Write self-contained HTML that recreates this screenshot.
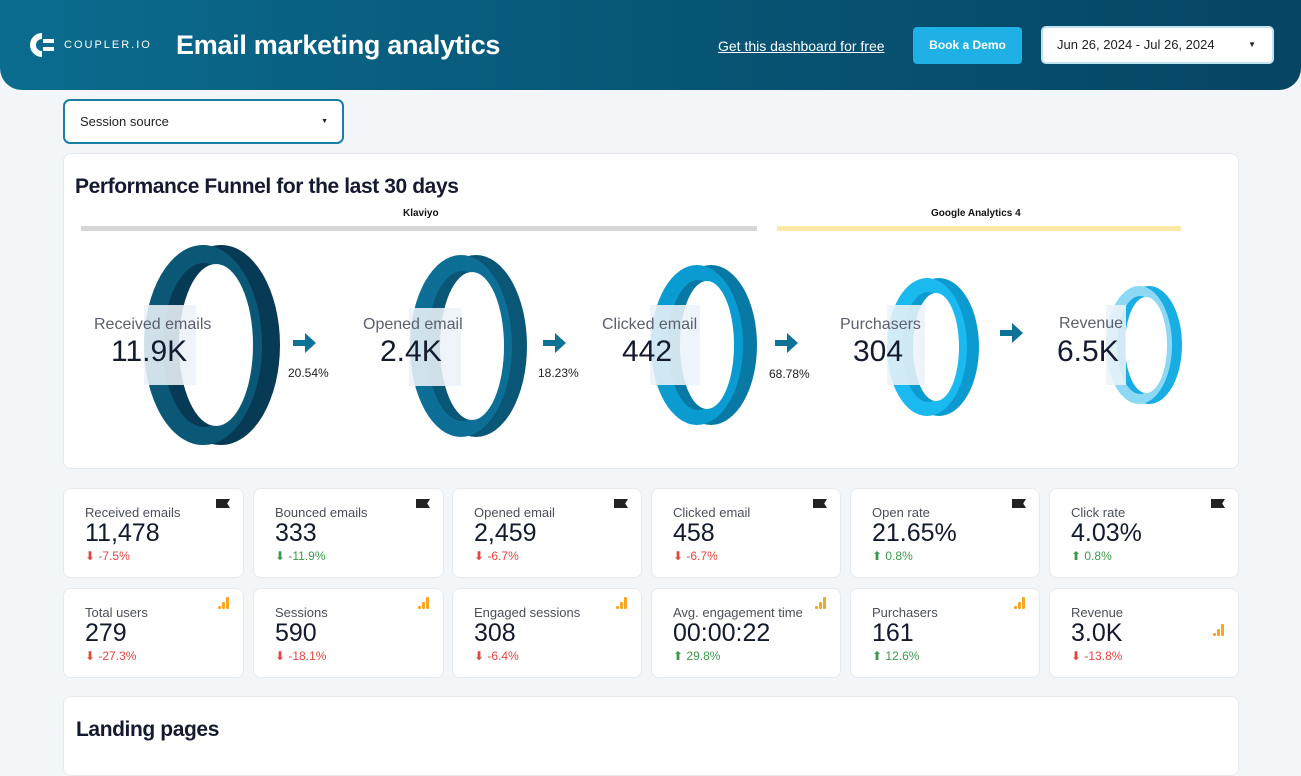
<!DOCTYPE html>
<html><head><meta charset="utf-8"><style>
*{margin:0;padding:0;box-sizing:border-box}
body{width:1301px;height:746px;overflow:hidden;background:#f3f6f8;font-family:"Liberation Sans",sans-serif;position:relative;color:#101828}
.hdr{position:absolute;left:0;top:0;width:1301px;height:90px;background:linear-gradient(90deg,#0b6c8f 0%,#075676 50%,#064563 100%);border-radius:0 0 22px 22px}
.abs{position:absolute;white-space:nowrap}
.card{position:absolute;background:#fff;border:1px solid #e6eaee;border-radius:8px}
.kl{position:absolute;left:21px;top:16px;font-size:13px;color:#4a4f5a}
.kv{position:absolute;left:21px;top:30px;font-size:25px;color:#121a2e}
.kd{position:absolute;left:21px;top:60px;font-size:12px}
.red{color:#e0473f}.grn{color:#3b9a4a}
.flag{position:absolute;right:13px;top:10px;width:14px;height:9px;background:#222;clip-path:polygon(0 0,100% 0,80% 50%,100% 100%,0 100%)}
.bars{position:absolute;right:13px;top:8px;width:12px;height:12px}
.bars i{position:absolute;bottom:0;width:3px;background:#f5a623;border-radius:1px}
.fl{font-size:16px;color:#5b5f6e}.fv{font-size:30px;color:#141a30}
</style></head><body>
<div class="hdr"></div>
<svg class="abs" style="left:28px;top:31px" width="28" height="28" viewBox="0 0 28 28"><path d="M14 2a12 12 0 1 0 0 24v-6a6 6 0 1 1 0-12z" fill="#fff"/><rect x="15" y="8" width="11" height="4" fill="#fff"/><rect x="15" y="16" width="11" height="4" fill="#fff"/></svg>
<div class="abs" style="left:64px;top:39px;font-size:11px;color:#fff;letter-spacing:2px">COUPLER.IO</div>
<div class="abs" style="left:176px;top:30px;font-size:27px;font-weight:bold;color:#fff;letter-spacing:-0.3px">Email marketing analytics</div>
<div class="abs" style="left:718px;top:38px;font-size:14px;color:#fff;text-decoration:underline">Get this dashboard for free</div>
<div class="abs" style="left:913px;top:27px;width:109px;height:37px;background:#1fb1e6;border-radius:4px;color:#fff;font-size:12px;font-weight:bold;text-align:center;line-height:37px">Book a Demo</div>
<div class="abs" style="left:1041px;top:26px;width:233px;height:38px;background:#fff;border-radius:5px;border:2px solid #bfe3f0;font-size:13px;color:#222;line-height:34px;padding-left:14px">Jun 26, 2024 - Jul 26, 2024<span style="position:absolute;right:16px;font-size:8px">▼</span></div>
<div class="abs" style="left:63px;top:99px;width:281px;height:45px;background:#fff;border:2px solid #1b7ea3;border-radius:7px;font-size:13px;color:#222;line-height:41px;padding-left:15px">Session source<span style="position:absolute;right:14px;font-size:7px">▼</span></div>

<div class="card" style="left:63px;top:153px;width:1176px;height:316px"></div>
<div class="abs" style="left:75px;top:175px;font-size:21px;font-weight:bold;color:#141a30;letter-spacing:-0.4px">Performance Funnel for the last 30 days</div>
<div class="abs" style="left:403px;top:208px;font-size:10px;font-weight:bold;color:#111">Klaviyo</div>
<div class="abs" style="left:81px;top:226px;width:676px;height:5px;background:#d6d6d6"></div>
<div class="abs" style="left:931px;top:208px;font-size:10px;font-weight:bold;color:#111">Google Analytics 4</div>
<div class="abs" style="left:777px;top:226px;width:404px;height:5px;background:#fde8a8"></div>

<svg class="abs" style="left:0;top:0" width="1301" height="746">
<g><ellipse cx="221" cy="345" rx="59" ry="100" fill="#073a54"/><ellipse cx="203" cy="345" rx="59" ry="100" fill="#0b5876"/><ellipse cx="204" cy="345" rx="41" ry="82" fill="#073a54"/><ellipse cx="216" cy="345" rx="37" ry="81" fill="#fff"/></g>
<g><ellipse cx="476" cy="346" rx="51" ry="91" fill="#0a5677"/><ellipse cx="461" cy="346" rx="51" ry="91" fill="#0e6f96"/><ellipse cx="462" cy="346" rx="35" ry="75" fill="#0a5677"/><ellipse cx="472" cy="346" rx="32" ry="74" fill="#fff"/></g>
<g><ellipse cx="711" cy="345" rx="46" ry="80" fill="#0879a5"/><ellipse cx="697" cy="345" rx="46" ry="80" fill="#0a9bd0"/><ellipse cx="698" cy="345" rx="30" ry="65" fill="#0879a5"/><ellipse cx="707" cy="345" rx="27" ry="64" fill="#fff"/></g>
<g><ellipse cx="939" cy="347" rx="40" ry="69" fill="#0c9bd0"/><ellipse cx="927" cy="347" rx="40" ry="69" fill="#1ab9ef"/><ellipse cx="928" cy="347" rx="26" ry="55" fill="#0c9bd0"/><ellipse cx="936" cy="347" rx="23" ry="54" fill="#fff"/></g>
<g><ellipse cx="1149" cy="345" rx="33" ry="59" fill="#19aee3"/><ellipse cx="1139" cy="345" rx="33" ry="59" fill="#8dd8f4"/><ellipse cx="1140" cy="345" rx="23" ry="49" fill="#19aee3"/><ellipse cx="1146" cy="345" rx="21" ry="48" fill="#fff"/></g>
<g fill="rgba(236,243,248,0.88)"><rect x="144" y="305" width="52" height="80"/><rect x="409" y="308" width="52" height="78"/><rect x="650" y="305" width="50" height="80"/><rect x="887" y="305" width="38" height="80"/><rect x="1106" y="305" width="20" height="80"/></g>
<g fill="#0e7196"><path d="M293 340h12v-7l11 10-11 10v-7h-12z"/><path d="M543 340h12v-7l11 10-11 10v-7h-12z"/><path d="M775 340h12v-7l11 10-11 10v-7h-12z"/><path d="M1000 330h12v-7l11 10-11 10v-7h-12z"/></g>
</svg>
<div class="abs fl" style="left:94px;top:316px">Received emails</div><div class="abs fv" style="left:111px;top:335px">11.9K</div>
<div class="abs fl" style="left:363px;top:316px">Opened email</div><div class="abs fv" style="left:380px;top:335px">2.4K</div>
<div class="abs fl" style="left:602px;top:316px">Clicked email</div><div class="abs fv" style="left:622px;top:335px">442</div>
<div class="abs fl" style="left:840px;top:316px">Purchasers</div><div class="abs fv" style="left:853px;top:335px">304</div>
<div class="abs fl" style="left:1059px;top:315px">Revenue</div><div class="abs fv" style="left:1057px;top:335px">6.5K</div>
<div class="abs" style="left:288px;top:366px;font-size:12px;color:#222">20.54%</div>
<div class="abs" style="left:538px;top:366px;font-size:12px;color:#222">18.23%</div>
<div class="abs" style="left:769px;top:367px;font-size:12px;color:#222">68.78%</div>

<div class="card" style="left:63px;top:488px;width:181px;height:90px"><div class="flag"></div><div class="kl">Received emails</div><div class="kv">11,478</div><div class="kd red">⬇ -7.5%</div></div>
<div class="card" style="left:253px;top:488px;width:191px;height:90px"><div class="flag"></div><div class="kl">Bounced emails</div><div class="kv">333</div><div class="kd grn">⬇ -11.9%</div></div>
<div class="card" style="left:452px;top:488px;width:190px;height:90px"><div class="flag"></div><div class="kl">Opened email</div><div class="kv">2,459</div><div class="kd red">⬇ -6.7%</div></div>
<div class="card" style="left:651px;top:488px;width:190px;height:90px"><div class="flag"></div><div class="kl">Clicked email</div><div class="kv">458</div><div class="kd red">⬇ -6.7%</div></div>
<div class="card" style="left:850px;top:488px;width:190px;height:90px"><div class="flag"></div><div class="kl">Open rate</div><div class="kv">21.65%</div><div class="kd grn">⬆ 0.8%</div></div>
<div class="card" style="left:1049px;top:488px;width:190px;height:90px"><div class="flag"></div><div class="kl">Click rate</div><div class="kv">4.03%</div><div class="kd grn">⬆ 0.8%</div></div>

<div class="card" style="left:63px;top:588px;width:181px;height:90px"><div class="bars"><i style="left:0;height:3px"></i><i style="left:4px;height:7px"></i><i style="left:8px;height:12px"></i></div><div class="kl">Total users</div><div class="kv">279</div><div class="kd red">⬇ -27.3%</div></div>
<div class="card" style="left:253px;top:588px;width:191px;height:90px"><div class="bars"><i style="left:0;height:3px"></i><i style="left:4px;height:7px"></i><i style="left:8px;height:12px"></i></div><div class="kl">Sessions</div><div class="kv">590</div><div class="kd red">⬇ -18.1%</div></div>
<div class="card" style="left:452px;top:588px;width:190px;height:90px"><div class="bars"><i style="left:0;height:3px"></i><i style="left:4px;height:7px"></i><i style="left:8px;height:12px"></i></div><div class="kl">Engaged sessions</div><div class="kv">308</div><div class="kd red">⬇ -6.4%</div></div>
<div class="card" style="left:651px;top:588px;width:190px;height:90px"><div class="bars"><i style="left:0;height:3px"></i><i style="left:4px;height:7px"></i><i style="left:8px;height:12px"></i></div><div class="kl">Avg. engagement time</div><div class="kv">00:00:22</div><div class="kd grn">⬆ 29.8%</div></div>
<div class="card" style="left:850px;top:588px;width:190px;height:90px"><div class="bars"><i style="left:0;height:3px"></i><i style="left:4px;height:7px"></i><i style="left:8px;height:12px"></i></div><div class="kl">Purchasers</div><div class="kv">161</div><div class="kd grn">⬆ 12.6%</div></div>
<div class="card" style="left:1049px;top:588px;width:190px;height:90px"><div class="bars" style="top:35px"><i style="left:0;height:3px"></i><i style="left:4px;height:7px"></i><i style="left:8px;height:12px"></i></div><div class="kl">Revenue</div><div class="kv">3.0K</div><div class="kd red">⬇ -13.8%</div></div>

<div class="card" style="left:63px;top:696px;width:1176px;height:80px"></div>
<div class="abs" style="left:76px;top:718px;font-size:21px;font-weight:bold;color:#141a30;letter-spacing:-0.4px">Landing pages</div>
</body></html>
